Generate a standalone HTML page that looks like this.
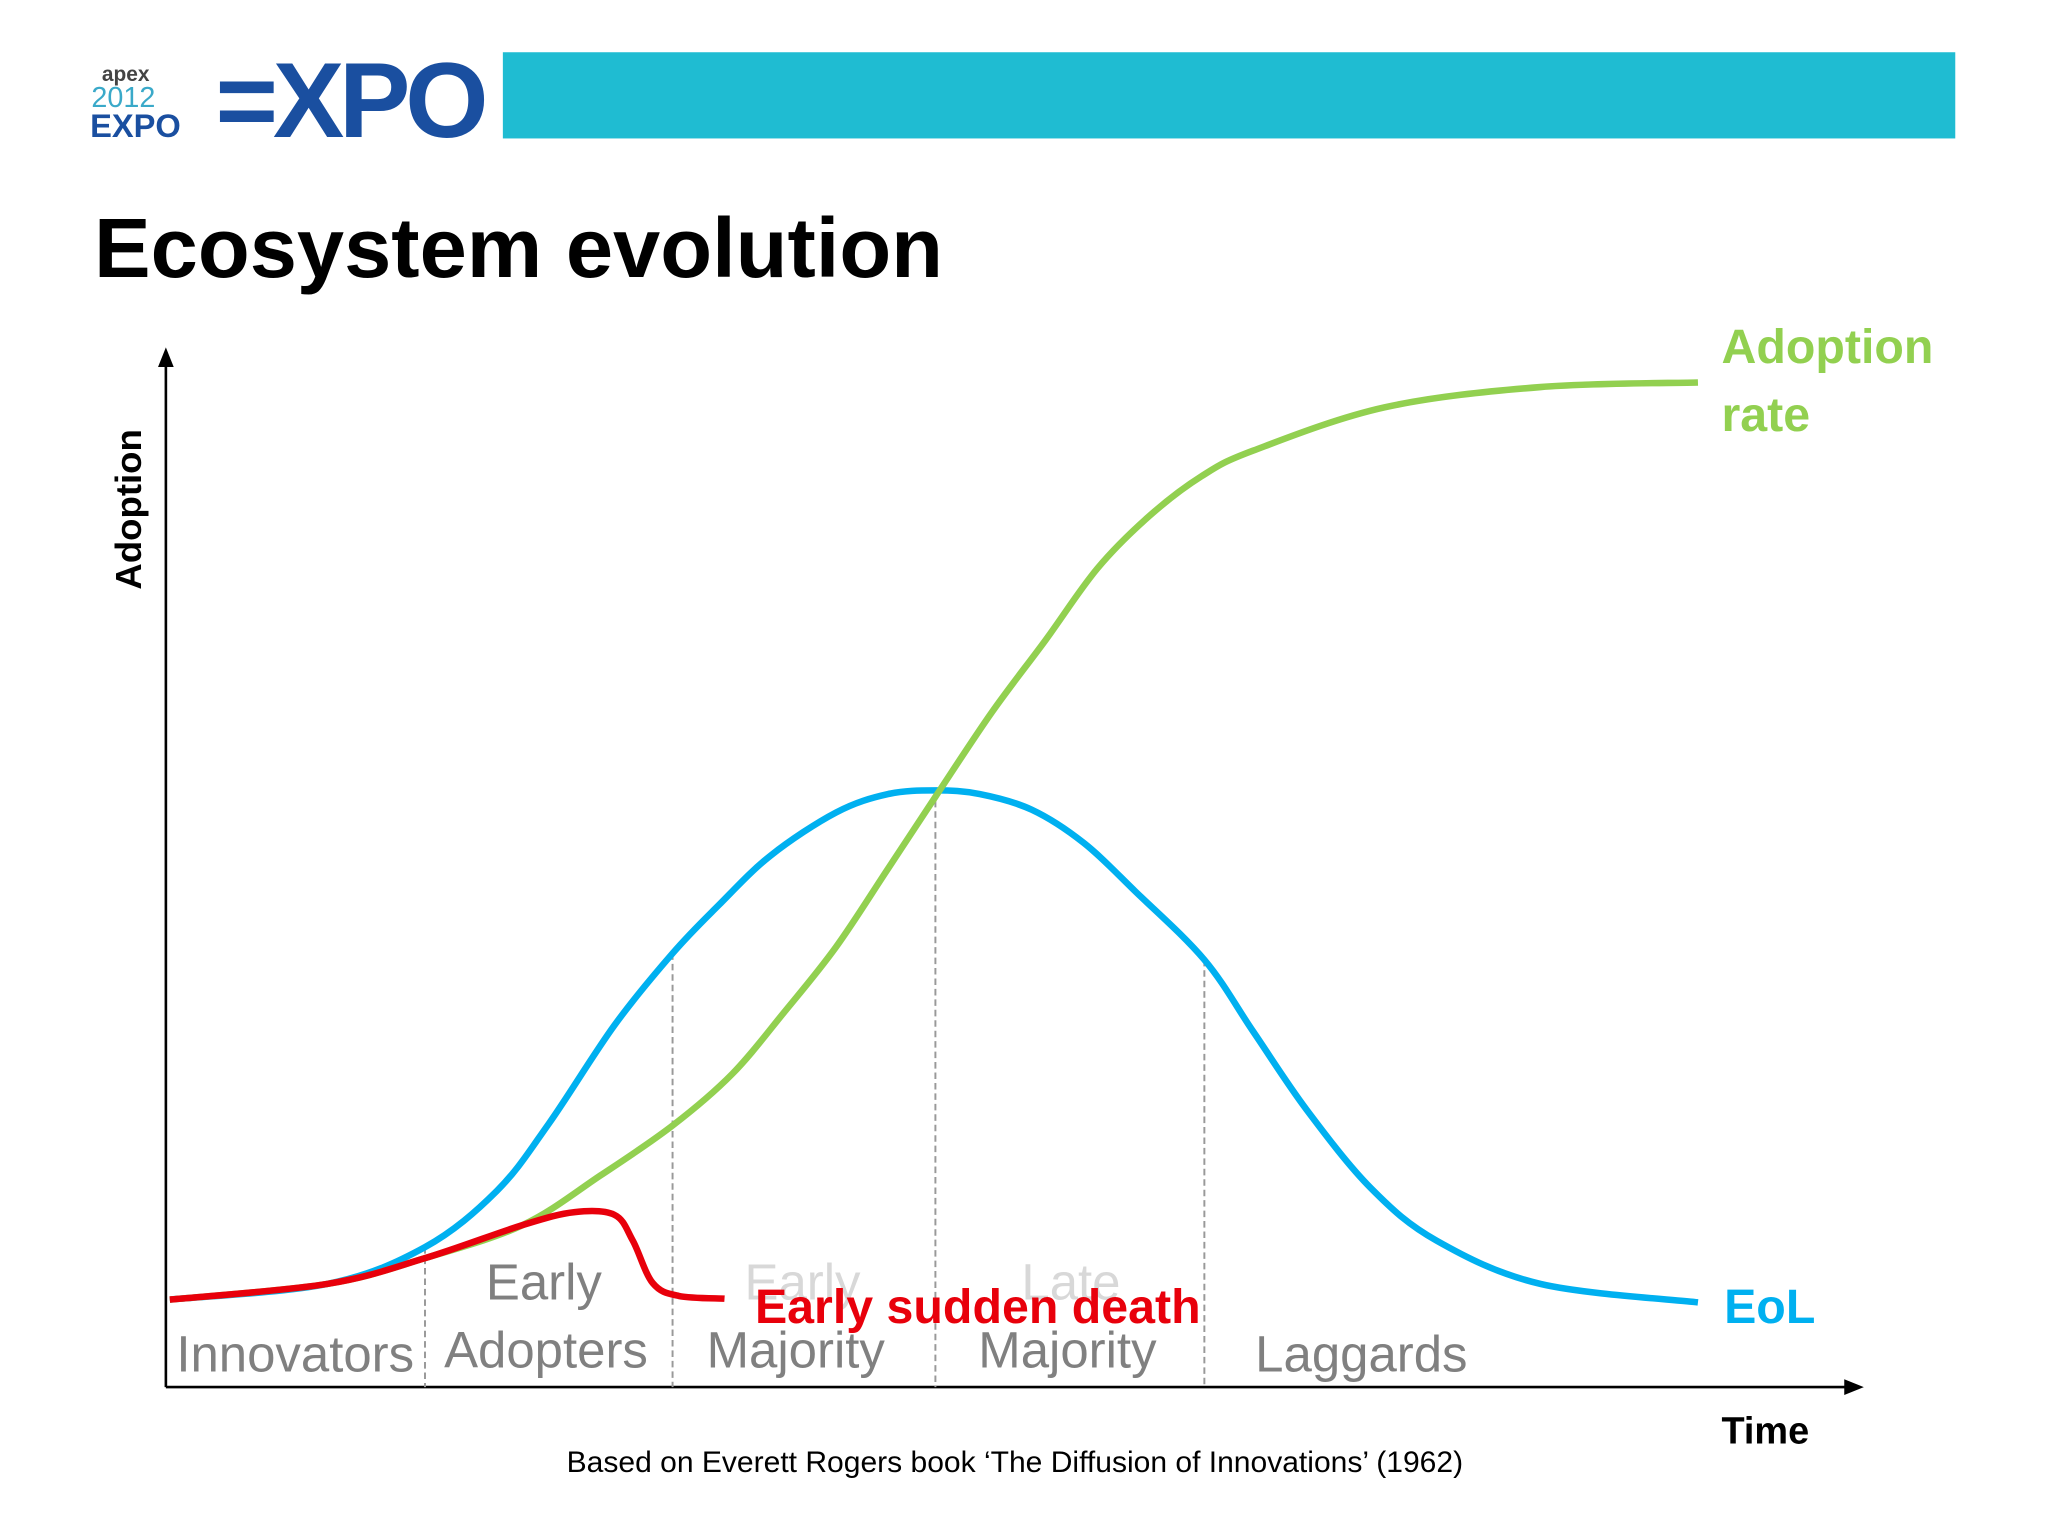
<!DOCTYPE html>
<html><head><meta charset="utf-8"><style>
html,body{margin:0;padding:0;background:#fff}
svg{display:block}
text{font-family:"Liberation Sans",sans-serif}
</style></head><body>
<svg id="chart" width="2048" height="1536" viewBox="0 0 1568 1176" xmlns="http://www.w3.org/2000/svg">
<rect x="0" y="0" width="1568" height="1176" fill="#fff"/>
<g>
<rect x="385" y="40" width="1112" height="66" fill="#1fbcd2"/>
<text x="78" y="62" font-size="16" font-weight="bold" fill="#444">apex</text>
<text x="70" y="82" font-size="22" fill="#3aa9c9">2012</text>
<text x="69" y="105" font-size="25" font-weight="bold" fill="#1a4fa0">EXPO</text>
<text x="165" y="105" font-size="82" font-weight="bold" fill="#1a4fa0" letter-spacing="-4">=XPO</text>
</g>
<text x="72" y="212" font-size="65" font-weight="bold" fill="#000">Ecosystem evolution</text>
<g id="axes">
<line x1="127" y1="1062" x2="127" y2="276" stroke="#000" stroke-width="2"/>
<polygon points="127,266 121,281 133,281" fill="#000"/>
<line x1="127" y1="1062" x2="1415" y2="1062" stroke="#000" stroke-width="2"/>
<polygon points="1427,1062 1412,1056 1412,1068" fill="#000"/>
</g>
<text transform="translate(108,390) rotate(-90)" text-anchor="middle" font-size="28" font-weight="bold" fill="#000">Adoption</text>
<text x="1318" y="1105" font-size="29" font-weight="bold" fill="#000">Time</text>
<text x="777" y="1127" text-anchor="middle" font-size="23" fill="#000">Based on Everett Rogers book ‘The Diffusion of Innovations’ (1962)</text>
<g id="dividers"></g>
<g font-size="39" fill="#808080">
<text x="135" y="1050">Innovators</text>
<text x="372" y="995">Early</text>
<text x="340" y="1047">Adopters</text>
<text x="570" y="995" fill="#d8d8d8">Early</text>
<text x="541" y="1047">Majority</text>
<text x="782" y="995" fill="#d8d8d8">Late</text>
<text x="749" y="1047">Majority</text>
<text x="961" y="1050">Laggards</text>
</g>
<g id="series"></g>
<text x="578" y="1013" font-size="37" font-weight="bold" fill="#e8000b">Early sudden death</text>
<text x="1320" y="1013" font-size="37" font-weight="bold" fill="#00b0f0">EoL</text>
<text x="1318" y="278" font-size="37" font-weight="bold" fill="#92d050">Adoption</text>
<text x="1318" y="330" font-size="37" font-weight="bold" fill="#92d050">rate</text>
</svg>
<script>
const adoptionT = [0,10.3,16.7,23.1,28.2,32.9,36.8,40.2,43.6,47.0,50.1,53.8,57.3,60.7,64.1,67.5,70.9,79.5,89.7,100];
const adoptionV = [0,1.7,4.5,8.1,13.5,18.9,24.5,31.2,38.3,46.8,54.6,63.8,71.6,79.4,85.1,89.4,92.2,96.9,99.1,99.6];
const eolT = [0,10.3,16.7,21.4,24.8,29.1,32.9,35.9,39.3,43.6,47.0,50.1,53.0,56.4,59.8,63.2,67.7,70.9,74.4,78.6,82.9,89.7,100];
const eolV = [0,1.7,5.7,11.8,19.1,29.8,37.6,42.8,48.2,52.9,54.9,55.3,54.9,53.2,49.6,44.3,36.9,29.1,20.6,12.1,6.4,1.7,-0.3];
const deathT = [0,10.3,16.7,23.1,26.5,29.1,30.3,31.6,33.3,36.3];
const deathV = [0,1.7,4.5,8.1,9.5,9.2,6.4,1.8,0.4,0.1];
const dividerT = [16.7,32.9,50.1,67.7];
const NS='http://www.w3.org/2000/svg';
function xs(t){return 130+t*11.7;}
function ys(v){return 995-v*7.05;}
function path(T,V){
  const p=T.map((t,i)=>[xs(t),ys(V[i])]);
  let d='M'+p[0][0]+','+p[0][1];
  for(let i=0;i<p.length-1;i++){
    const p0=p[Math.max(0,i-1)],p1=p[i],p2=p[i+1],p3=p[Math.min(p.length-1,i+2)];
    const c1=[p1[0]+(p2[0]-p0[0])/6,p1[1]+(p2[1]-p0[1])/6];
    const c2=[p2[0]-(p3[0]-p1[0])/6,p2[1]-(p3[1]-p1[1])/6];
    d+=' C'+c1.join(',')+' '+c2.join(',')+' '+p2.join(',');
  }
  return d;
}
const dv=document.getElementById('dividers');
dividerT.forEach(t=>{
  let yTop=ys(0);
  for(let i=0;i<eolT.length-1;i++){if(t>=eolT[i]&&t<=eolT[i+1]){const f=(t-eolT[i])/(eolT[i+1]-eolT[i]);yTop=ys(eolV[i]+f*(eolV[i+1]-eolV[i]));}}
  const l=document.createElementNS(NS,'line');
  
  
  l.setAttribute('x1',xs(t));l.setAttribute('x2',xs(t));
  l.setAttribute('y1',yTop);l.setAttribute('y2',1062);
  l.setAttribute('stroke','#999');l.setAttribute('stroke-width','1.5');l.setAttribute('stroke-dasharray','5,3');
  dv.appendChild(l);
});
const sg=document.getElementById('series');
[[eolT,eolV,'#00b0f0','eol-curve'],[adoptionT,adoptionV,'#92d050','adoption-rate-curve'],[deathT,deathV,'#e8000b','early-sudden-death-curve']].forEach(s=>{
  const p=document.createElementNS(NS,'path');
  
  
  p.setAttribute('d',path(s[0],s[1]));
  p.setAttribute('fill','none');p.setAttribute('stroke',s[2]);p.setAttribute('stroke-width','5');
  sg.appendChild(p);
});
</script>
</body></html>
